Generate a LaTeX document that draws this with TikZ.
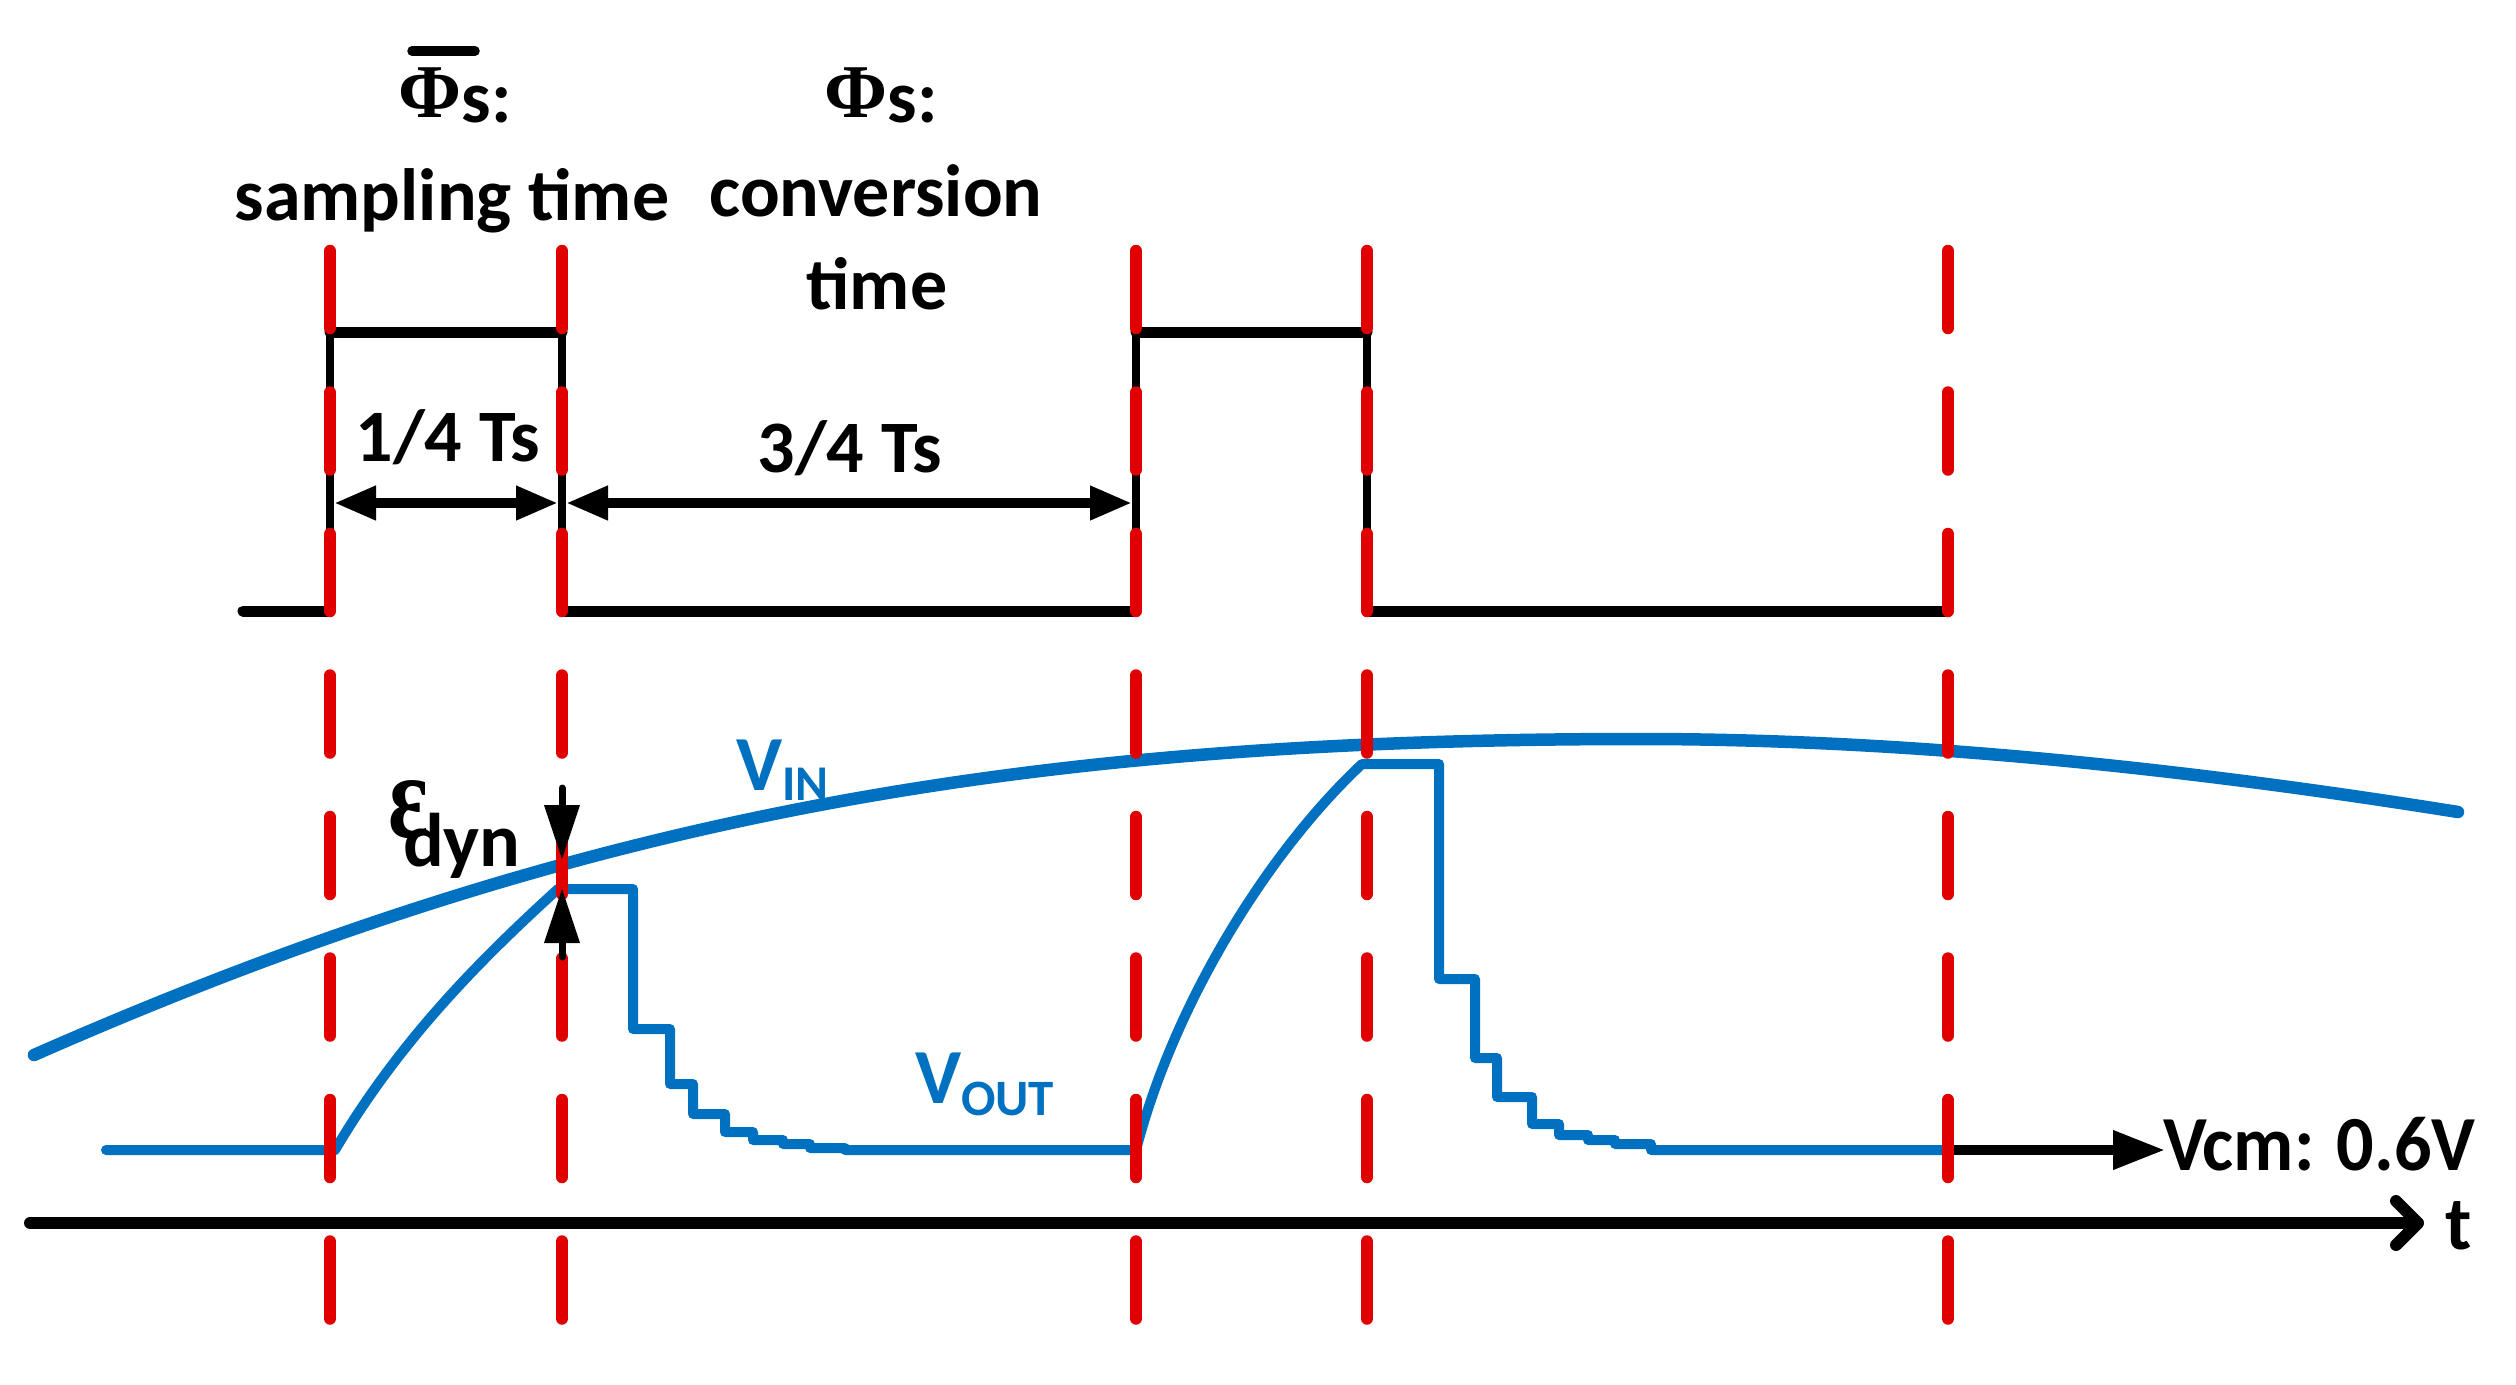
\documentclass[tikz,border=0pt]{standalone}
\usepackage{fontspec}
\usepackage{graphicx}
\setmainfont{Carlito}
\newfontfamily\greekfont{Liberation Serif}
\usetikzlibrary{arrows.meta}
\definecolor{vblue}{RGB}{0,112,192}
\definecolor{vred}{RGB}{224,0,0}
\newcommand{\myfs}[1]{\fontsize{#1}{#1}\selectfont}
\newcommand{\myphi}{{\greekfont\bfseries\myfs{76}Φ}}
\begin{document}
\begin{tikzpicture}[x=1pt,y=-1pt,
  lbl/.style={inner sep=0pt, outer sep=0pt, font=\bfseries\myfs{74}},
  pulseline/.style={line width=8pt, line cap=round, line join=miter},
  pulselevel/.style={line width=11pt, line cap=round},
  dimarrow/.style={line width=10pt, {Triangle[length=42pt,width=32pt]}-{Triangle[length=42pt,width=32pt]}},
  epsarrow/.style={line width=7pt, line cap=round, -{Triangle[length=55pt,width=34pt]}},
  vcmarrow/.style={line width=10pt, line cap=round, -{Triangle[length=52pt,width=37pt]}},
  axisline/.style={line width=12pt, line cap=round, -{Straight Barb[length=22pt,width=44pt,round]}},
  vinline/.style={vblue, line width=12.5pt, line cap=round},
  voutline/.style={vblue, line width=10pt, line cap=round, line join=round},
  reddash/.style={vred, line width=12.5pt, line cap=round, dash pattern=on 77pt off 64.5pt}
]
\useasboundingbox (0,0) rectangle (2516,1384);
\fill[white] (0,0) rectangle (2516,1384);

% clock pulse
\draw[pulseline] (243,611) -- (330,611) -- (330,332) -- (562,332) -- (562,611)
  -- (1136,611) -- (1136,332) -- (1367,332) -- (1367,611) -- (1948,611);
\draw[pulselevel] (243,611) -- (330,611);
\draw[pulselevel] (330,332) -- (562,332);
\draw[pulselevel] (562,611) -- (1136,611);
\draw[pulselevel] (1136,332) -- (1367,332);
\draw[pulselevel] (1367,611) -- (1948,611);

% dimension arrows
\coordinate (d1a) at (334,503);
\coordinate (d1b) at (558,503);
\coordinate (d2a) at (566,503);
\coordinate (d2b) at (1132,503);
\draw[dimarrow] (d1a) -- (d1b);
\draw[dimarrow] (d2a) -- (d2b);

% V_IN
\draw[vinline] (34,1055) .. controls (594,808.6) and (1040,739) .. (1640,739)
  .. controls (1910,739) and (2188,768.8) .. (2458,812);

% V_OUT
\draw[voutline] (106,1150) -- (335,1150)
  .. controls (400,1040) and (480,960) .. (558,889) -- (633,889)
  -- (633,1029) -- (670,1029) -- (670,1084) -- (693,1084) -- (693,1114)
  -- (725,1114) -- (725,1132) -- (753,1132) -- (753,1140) -- (783,1140)
  -- (783,1144) -- (810,1144) -- (810,1148) -- (845,1148) -- (845,1150)
  -- (1136,1150)
  .. controls (1175,1000) and (1270,850) .. (1362,764) -- (1439,764)
  -- (1439,979) -- (1475,979) -- (1475,1058) -- (1497,1058) -- (1497,1097)
  -- (1532,1097) -- (1532,1124) -- (1559,1124) -- (1559,1135) -- (1588,1135)
  -- (1588,1140) -- (1615,1140) -- (1615,1144) -- (1651,1144) -- (1651,1150)
  -- (1948,1150);

% Vcm arrow
\coordinate (vcmstart) at (1950,1150);
\coordinate (vcmtip) at (2165,1150);
\draw[vcmarrow] (vcmstart) -- (vcmtip);

% time axis
\coordinate (ax0) at (30,1223);
\coordinate (ax1) at (2424,1223);
\draw[axisline] (ax0) -- (ax1);

% red dashed sampling instants
\foreach \xx in {330,562,1136,1367,1948}
  \draw[reddash] (\xx,251) -- (\xx,1318.5);

% epsilon_dyn arrows
\coordinate (e1a) at (562,788);
\coordinate (e1b) at (562,860);
\coordinate (e2a) at (562,957);
\coordinate (e2b) at (562,888);
\draw[epsarrow] (e1a) -- (e1b);
\draw[epsarrow] (e2a) -- (e2b);

% labels
\node[lbl, anchor=base] (phib) at (455,122) {\raisebox{5pt}{\myphi}s:};
\draw[line width=9.5pt, line cap=round] (412,51) -- (475,51);
\node[lbl, anchor=base] (phi) at (881,122) {\raisebox{5pt}{\myphi}s:};
\node[lbl, anchor=base] (samp) at (452,220) {sampling time};
\node[lbl, anchor=base] (conv) at (876,216) {conversion};
\node[lbl, anchor=base] (convt) at (877,309) {time};
\node[lbl, anchor=base] (q14) at (448,461) {1/4 Ts};
\node[lbl, anchor=base] (q34) at (850,472) {3/4 Ts};

\node[lbl, anchor=base west, text=vblue] (vin) at (736,790)
  {\myfs{78}V\raisebox{-10pt}{\myfs{50}IN}};
\node[lbl, anchor=base west, text=vblue] (vout) at (915,1103)
  {\myfs{78}V\raisebox{-12pt}{\myfs{51}OUT}};

\node[lbl, anchor=base west] (eps) at (403,866)
  {\myfs{76}\makebox[0pt][l]{\hspace{-15pt}\raisebox{29pt}{\resizebox{40pt}{57pt}{\greekfont\bfseries ε}}}dyn};

\node[lbl, anchor=base west] (vcm) at (2163,1170)
  {\scalebox{0.95}[1]{\myfs{78}Vcm: 0.6V}};
\node[lbl, anchor=base west] (tlab) at (2445,1249) {\myfs{76}t};
\end{tikzpicture}
\end{document}
